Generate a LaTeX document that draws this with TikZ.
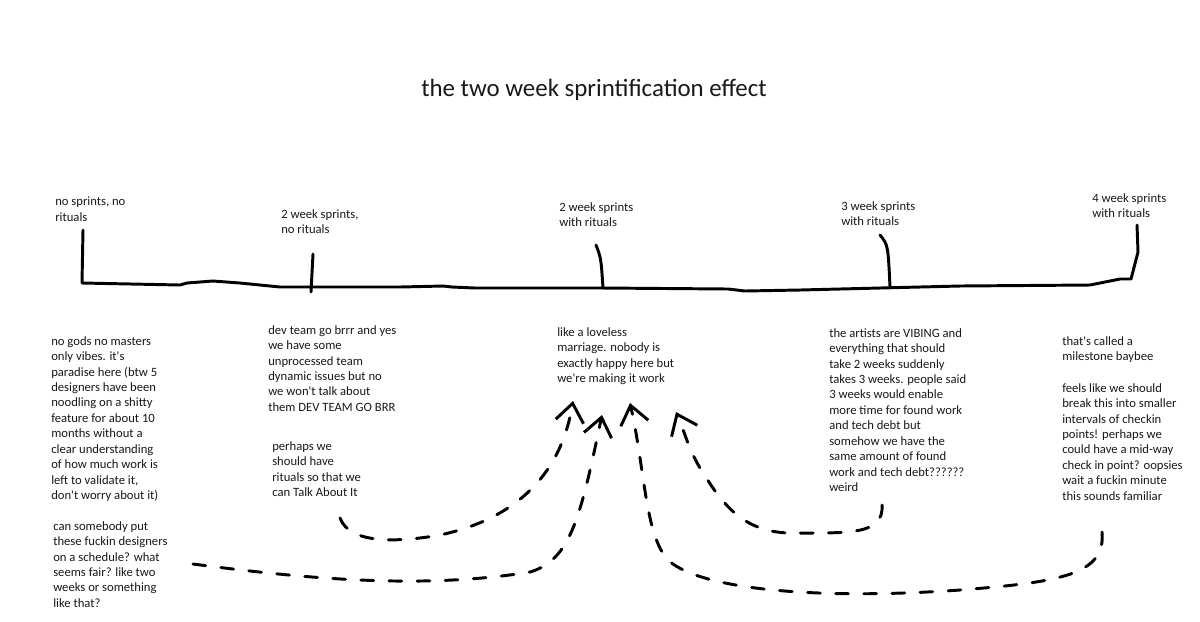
\documentclass[tikz,border=0pt]{standalone}
\usepackage{fontspec}
\newfontfamily\sketchfont{Carlito}[Ligatures=TeXOff]
\usetikzlibrary{arrows.meta}

\begin{document}
\begin{tikzpicture}[x=0.025cm, y=-0.025cm,
    pen/.style={line width=2.1pt, line cap=round, line join=round},
    scribble/.style={pen, dash pattern=on 9pt off 11pt, -{Straight Barb[length=13pt,width=20pt]}},
    note/.style={anchor=north west, inner sep=0pt, align=left, text=black!90, font=\sketchfont\fontsize{9}{11}\selectfont}]
    \fill[white] (0,0) rectangle (1200,621);
    \node[anchor=base west, inner sep=0pt, text=black!90, font=\sketchfont\fontsize{17.7}{20}\selectfont] (title) at (421,96) {the two week sprintification effect};
    % the timeline
    \draw[pen] (83,230) -- (82,283) -- (180,285) -- (187,283) -- (213,281) -- (240,283) -- (280,287) -- (400,287) -- (443,286) -- (452,287) -- (475,288) -- (603,288) -- (728,289) -- (745,291) -- (800,290) -- (960,286) -- (1090,285) -- (1120,279) -- (1131,279) -- (1138,252) -- (1137,225);
    \draw[pen] (313,254) -- (311,292);
    \draw[pen] (596,245) .. controls (601,258) .. (603,288);
    \draw[pen] (880,235) .. controls (888,245) .. (890,287);
    \node[note] (none) at (55,197) {no sprints, no\\rituals};
    \node[note] (twonone) at (281,209) {2 week sprints,\\no rituals};
    \node[note] (tworit) at (559,202) {2 week sprints\\with rituals};
    \node[note] (threerit) at (841,201) {3 week sprints\\with rituals};
    \node[note] (fourrit) at (1092,193) {4 week sprints\\with rituals};
    % what it feels like
    \node[note] (vibes) at (51,336) {no gods no masters\\only vibes. it's\\paradise here (btw 5\\designers have been\\noodling on a shitty\\feature for about 10\\months without a\\clear understanding\\of how much work is\\left to validate it,\\don't worry about it)};
    \node[note] (schedule) at (53,521) {can somebody put\\these fuckin designers\\on a schedule? what\\seems fair? like two\\weeks or something\\like that?};
    \node[note] (brrr) at (268,325) {dev team go brrr and yes\\we have some\\unprocessed team\\dynamic issues but no\\we won't talk about\\them DEV TEAM GO BRR};
    \node[note] (talk) at (272,441) {perhaps we\\should have\\rituals so that we\\can Talk About It};
    \node[note] (loveless) at (557,327) {like a loveless\\marriage. nobody is\\exactly happy here but\\we're making it work};
    \node[note] (artists) at (829,328) {the artists are VIBING and\\everything that should\\take 2 weeks suddenly\\takes 3 weeks. people said\\3 weeks would enable\\more time for found work\\and tech debt but\\somehow we have the\\same amount of found\\work and tech debt??????\\weird};
    \node[note] (milestone) at (1062,336) {that's called a\\milestone baybee};
    \node[note] (checkin) at (1062,383) {feels like we should\\break this into smaller\\intervals of checkin\\points! perhaps we\\could have a mid-way\\check in point? oopsies\\wait a fuckin minute\\this sounds familiar};
    % everybody ends up back at two weeks
    \coordinate (schedule-out) at (193,564);
    \coordinate (talk-out) at (340,518);
    \coordinate (artists-out) at (882,505);
    \coordinate (checkin-out) at (1102,532);
    \coordinate (loveless-a) at (573,401);
    \coordinate (loveless-b) at (602,415);
    \coordinate (loveless-c) at (630,403);
    \coordinate (loveless-d) at (676,412);
    \draw[scribble] (schedule-out) .. controls (300,578) and (420,590) .. (530,572) .. controls (570,560) and (580,520) .. (loveless-b);
    \draw[scribble] (talk-out) .. controls (350,545) and (400,542) .. (440,535) .. controls (510,520) and (560,480) .. (loveless-a);
    \draw[scribble] (checkin-out) .. controls (1106,575) and (1060,582) .. (960,590) .. controls (820,600) and (700,590) .. (668,560) .. controls (645,535) and (645,470) .. (loveless-c);
    \draw[scribble] (artists-out) .. controls (884,535) and (850,533) .. (790,533) .. controls (740,532) and (720,500) .. (700,468) .. controls (688,448) and (684,430) .. (loveless-d);
\end{tikzpicture}
\end{document}
